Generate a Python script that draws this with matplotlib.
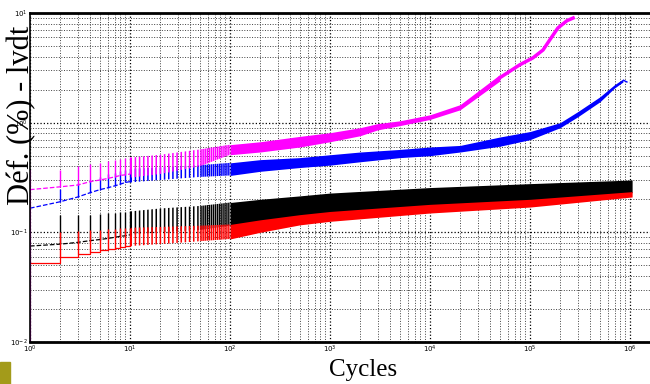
import matplotlib.pyplot as plt
from matplotlib.patches import Rectangle

plt.rcParams['hatch.linewidth'] = 1.1

# early cycles: one spike (min -> max) per cycle
cyc_early = [1, 2, 3, 4, 5, 6, 7, 8, 9, 10]

mag_base = [0.245, 0.26, 0.27, 0.29, 0.30, 0.31, 0.32, 0.33, 0.335, 0.34]
mag_peak = [0.37, 0.37, 0.40, 0.42, 0.43, 0.45, 0.46, 0.47, 0.48, 0.49]
blu_base = [0.166, 0.19, 0.21, 0.23, 0.245, 0.255, 0.265, 0.275, 0.285, 0.29]
blu_peak = [0.166, 0.25, 0.28, 0.30, 0.32, 0.34, 0.35, 0.36, 0.37, 0.38]
blk_base = [0.075, 0.078, 0.081, 0.084, 0.086, 0.088, 0.090, 0.092, 0.093, 0.095]
blk_peak = [0.075, 0.145, 0.145, 0.145, 0.148, 0.15, 0.15, 0.152, 0.153, 0.155]
red_base = [0.053, 0.059, 0.063, 0.066, 0.069, 0.070, 0.072, 0.074, 0.075, 0.075]
red_peak = [0.053, 0.10, 0.103, 0.105, 0.106, 0.107, 0.108, 0.109, 0.11, 0.11]

# later cycles: min / max envelope of the dense band
mag_cyc = [10, 20, 50, 100, 200, 500, 1000, 2000, 3000, 5000, 1e4, 2e4, 5e4]
mag_hi = [0.48, 0.51, 0.57, 0.63, 0.67, 0.75, 0.81, 0.90, 0.98, 1.04, 1.18, 1.46, 2.75]
mag_lo = [0.315, 0.34, 0.40, 0.51, 0.54, 0.60, 0.67, 0.76, 0.86, 0.94, 1.07, 1.31, 2.40]
mag_tail_cyc = [5e4, 7.9e4, 1.07e5, 1.35e5, 1.58e5, 1.9e5, 2.34e5, 2.7e5]
mag_tail = [2.57, 3.37, 3.9, 4.6, 5.7, 7.3, 8.5, 9.0]

blu_cyc = [10, 20, 50, 100, 200, 500, 1000, 2000, 5000, 1e4, 2e4, 5e4, 1e5,
           2e5, 3e5, 5e5, 7e5, 8.5e5]
blu_hi = [0.38, 0.39, 0.41, 0.43, 0.46, 0.48, 0.51, 0.54, 0.57, 0.60, 0.62, 0.74,
          0.83, 1.0, 1.26, 1.72, 2.22, 2.5]
blu_lo = [0.285, 0.30, 0.32, 0.33, 0.36, 0.39, 0.41, 0.44, 0.48, 0.50, 0.54, 0.61,
          0.70, 0.9, 1.13, 1.55, 2.07, 2.35]
blu_tail_cyc = [8.5e5, 9.3e5, 1.0e6]
blu_tail = [2.45, 2.35, 2.33]

blk_cyc = [10, 20, 50, 100, 200, 500, 1000, 1e4, 1e5, 1.05e6]
blk_hi = [0.155, 0.165, 0.174, 0.187, 0.20, 0.215, 0.228, 0.256, 0.278, 0.30]
blk_lo = [0.095, 0.10, 0.105, 0.115, 0.125, 0.14, 0.15, 0.175, 0.195, 0.23]

red_cyc = [10, 20, 50, 100, 200, 500, 1000, 1e4, 1e5, 1.05e6]
red_hi = [0.11, 0.112, 0.115, 0.118, 0.13, 0.145, 0.155, 0.18, 0.20, 0.235]
red_lo = [0.075, 0.078, 0.083, 0.087, 0.10, 0.117, 0.126, 0.15, 0.17, 0.21]

fig = plt.figure(figsize=(6.5, 3.84), dpi=100)
ax = fig.add_axes([30 / 650, 42 / 384, 620 / 650, 329 / 384])
ax.set_xscale('log')
ax.set_yscale('log')
ax.set_xlim(1, 10 ** 6.2)
ax.set_ylim(1e-2, 1e1)
ymin = 1e-2

series = [
    ('#0000ff', blu_base, blu_peak, blu_cyc, blu_hi, blu_lo, '--'),
    ('#ff00ff', mag_base, mag_peak, mag_cyc, mag_hi, mag_lo, '--'),
    ('black', blk_base, blk_peak, blk_cyc, blk_hi, blk_lo, '--'),
    ('#ff0000', red_base, red_peak, red_cyc, red_hi, red_lo, '-'),
]

for col, base, peak, cyc, hi, lo, ls in series:
    ax.vlines(cyc_early[1:], base[1:], peak[1:], color=col, lw=1.0)
    ax.plot(cyc_early, base, ls, color=col, lw=0.9,
            drawstyle='steps-post' if ls == '-' else 'default')
    # spikes get denser with cycles: sparse hatch, dense hatch, then solid
    ax.fill_between(cyc[:3], lo[:3], hi[:3], facecolor='none', edgecolor=col,
                    hatch='||||', lw=0)
    ax.fill_between(cyc[2:4], lo[2:4], hi[2:4], facecolor='none', edgecolor=col,
                    hatch='||||||||', lw=0)
    ax.fill_between(cyc[3:], lo[3:], hi[3:], color=col, lw=0)

ax.plot(mag_tail_cyc, mag_tail, color='#ff00ff', lw=2.5)
ax.plot(blu_tail_cyc, blu_tail, '--', color='#0000ff', lw=1.0)

# first loading ramp along the y axis
ax.vlines(1, ymin, blk_base[0], color='black', lw=1.5)
ax.vlines(1, ymin, mag_peak[0], color='#ff00ff', lw=1.5)

ax.set_axisbelow(True)
ax.grid(True, which='major', ls=':', color='black', lw=0.9)
ax.grid(True, which='minor', ls=':', color='0.25', lw=0.7)
ax.tick_params(which='both', length=0, labelsize=5, pad=1.5)

for s in ['top', 'bottom']:
    ax.spines[s].set_linewidth(2)
ax.spines['left'].set_linewidth(1.2)
ax.spines['right'].set_visible(False)

fig.text(22 / 650, 1 - 115 / 384, 'Déf. (%) - lvdt', rotation=90, ha='center',
         va='center', fontsize=22, family='Liberation Serif')
fig.text(363 / 650, 1 - 370 / 384, 'Cycles', ha='center', va='center',
         fontsize=18, family='Liberation Serif')

fig.patches.append(Rectangle((0, 0), 10 / 650, 22 / 384, transform=fig.transFigure,
                             color='#a39b1a', figure=fig))

fig.savefig('out.png', dpi=100)
